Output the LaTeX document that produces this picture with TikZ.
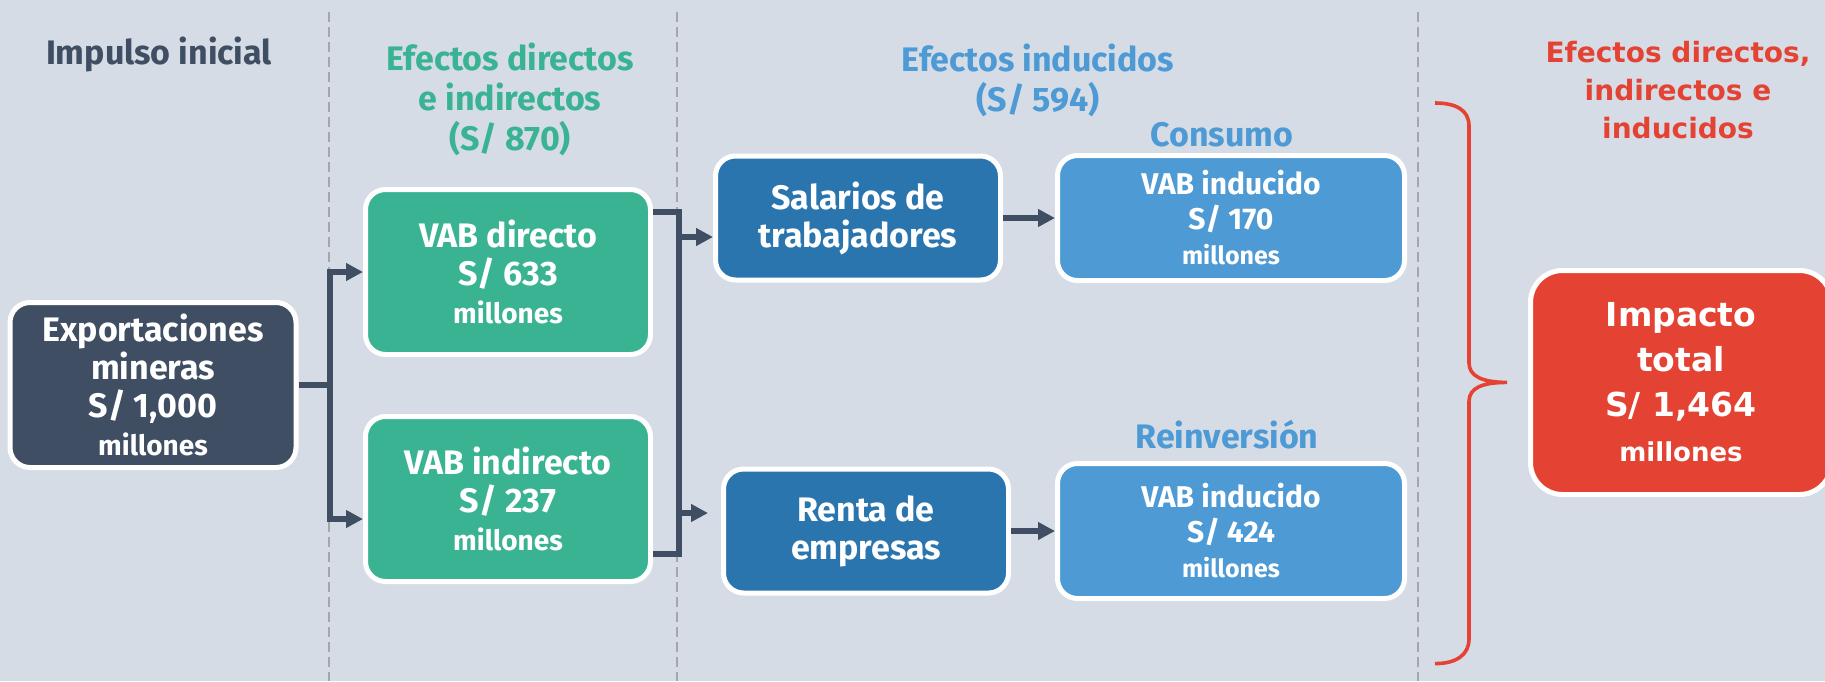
\documentclass[tikz,border=0pt]{standalone}
\usepackage{fontspec}
\setmainfont{Fira Sans}
\newfontfamily\verdfont{DejaVu Sans}
\usepackage{xcolor}
\usepackage{tikz}
\usetikzlibrary{shapes,arrows.meta,positioning}

\definecolor{bgcol}{HTML}{D5DCE6}
\definecolor{slatecol}{HTML}{3F4E62}
\definecolor{greencol}{HTML}{3AB393}
\definecolor{bluecol}{HTML}{2B75AE}
\definecolor{skycol}{HTML}{4D9AD5}
\definecolor{redcol}{HTML}{E44333}
\definecolor{dashcol}{HTML}{A3A6AA}

\newcommand{\millsize}{\fontsize{14}{16}\selectfont}
\newcommand{\smallmill}{\fontsize{12.5}{14}\selectfont}

\begin{document}
\begin{tikzpicture}[node distance=177.5pt, auto]
    % Define styles
    \tikzstyle{box} = [rectangle, rounded corners=10pt, draw=white, line width=2.5pt, text=white, align=center, inner sep=0pt, font=\bfseries\fontsize{17}{19}\selectfont]
    \tikzstyle{darkbox} = [box, fill=slatecol, minimum width=143pt, minimum height=82.5pt]
    \tikzstyle{greenbox} = [box, fill=greencol, minimum width=142.5pt, minimum height=82.5pt]
    \tikzstyle{channel} = [box, fill=bluecol, minimum width=142.5pt, minimum height=62pt]
    \tikzstyle{induced} = [box, fill=skycol, minimum width=173.5pt, font=\bfseries\fontsize{15}{17.5}\selectfont]
    \tikzstyle{total} = [box, fill=redcol, rounded corners=16pt, minimum width=150.5pt, minimum height=112pt, font=\verdfont\bfseries\fontsize{16.5}{22.5}\selectfont]
    \tikzstyle{heading} = [align=center, font=\bfseries\fontsize{17}{20}\selectfont]
    \tikzstyle{flow} = [draw=slatecol, line width=2.6pt, -{Triangle[length=8.5pt, width=8.5pt]}]
    \tikzstyle{link} = [draw=slatecol, line width=2.6pt]
    \tikzstyle{divider} = [draw=dashcol, line width=1.2pt, dash pattern=on 5pt off 2.5pt]

    % Background
    \fill[bgcol] (0,0) rectangle (912.5pt,-340.5pt);
    \useasboundingbox (0,0) rectangle (912.5pt,-340.5pt);
    \draw[divider] (164.5pt,-6pt) -- (164.5pt,-340.5pt);
    \draw[divider] (338.5pt,-6pt) -- (338.5pt,-340.5pt);
    \draw[divider] (709pt,-6pt) -- (709pt,-340.5pt);

    % Headings
    \node[heading, text=slatecol, anchor=base] (impulso) at (79.5pt,-32pt) {Impulso inicial};
    \node[heading, text=greencol] (hdirect) at (255pt,-49.5pt) {Efectos directos\\e indirectos\\(S/ 870)};
    \node[heading, text=skycol] (hinduced) at (519pt,-40pt) {Efectos inducidos\\(S/ 594)};
    \node[heading, text=redcol, font=\verdfont\bfseries\fontsize{14}{19}\selectfont] (htotal) at (839pt,-45pt) {Efectos directos,\\indirectos e\\inducidos};
    \node[heading, text=skycol, anchor=base] (consumo) at (611pt,-73pt) {Consumo};
    \node[heading, text=skycol, anchor=base] (reinv) at (613.5pt,-224pt) {Reinversión};

    % Nodes
    \node[darkbox] (expo) at (76.5pt,-192.5pt) {Exportaciones\\mineras\\S/ 1,000\\{\millsize millones}};
    \node[greenbox, right of=expo, yshift=56.5pt] (directo) {VAB directo\\S/ 633\\{\millsize millones}};
    \node[greenbox, right of=expo, yshift=-57pt] (indirecto) {VAB indirecto\\S/ 237\\{\millsize millones}};
    \node[channel, right of=directo, xshift=-2.5pt, yshift=27pt] (salarios) {Salarios de\\trabajadores};
    \node[channel, right of=indirecto, xshift=1.5pt, yshift=-16pt] (renta) {Renta de\\empresas};
    \node[induced, minimum height=62.5pt, right of=salarios, xshift=9pt] (ind1) {VAB inducido\\S/ 170\\{\smallmill millones}};
    \node[induced, minimum height=67.5pt, right of=renta, xshift=5pt] (ind2) {VAB inducido\\S/ 424\\{\smallmill millones}};
    \node[total] (total) at (840.5pt,-191.25pt) {Impacto\\total\\S/ 1,464\\{\fontsize{13}{15}\selectfont millones}};

    % Connections
    \coordinate (fork) at (165pt,-192.5pt);
    \draw[link] (expo.east) -- (fork);
    \draw[flow] (fork) |- (directo.west);
    \draw[flow] (fork) |- ([yshift=-10pt]indirecto.west);
    \coordinate (mtop) at (339.5pt,-106pt);
    \coordinate (mbot) at (339.5pt,-277pt);
    \draw[link] ([yshift=30pt]directo.east) -- (mtop) -- (mbot) -- ([yshift=-27.5pt]indirecto.east);
    \coordinate (msal) at (339.5pt,-118.5pt);
    \coordinate (mren) at (339.5pt,-256.5pt);
    \coordinate (rtip) at (354pt,-256.5pt);
    \draw[flow] (msal) -- (msal -| salarios.west);
    \draw[flow] (mren) -- (rtip);
    \draw[flow] (salarios.east) -- (salarios.east -| ind1.west);
    \draw[flow] (renta.east) -- (renta.east -| ind2.west);

    % Brace
    \draw[redcol, line width=1.8pt] (717.5pt,-51.5pt) .. controls (728pt,-51.5pt) and (734.5pt,-55pt) .. (734.5pt,-63pt) -- (734.5pt,-181.5pt) .. controls (734.5pt,-188pt) and (741pt,-191.2pt) .. (753.5pt,-191.2pt) .. controls (741pt,-191.2pt) and (734.5pt,-194pt) .. (734.5pt,-200.75pt) -- (734.5pt,-319.5pt) .. controls (734.5pt,-327.5pt) and (728pt,-331.8pt) .. (717.5pt,-331.8pt);
\end{tikzpicture}
\end{document}
